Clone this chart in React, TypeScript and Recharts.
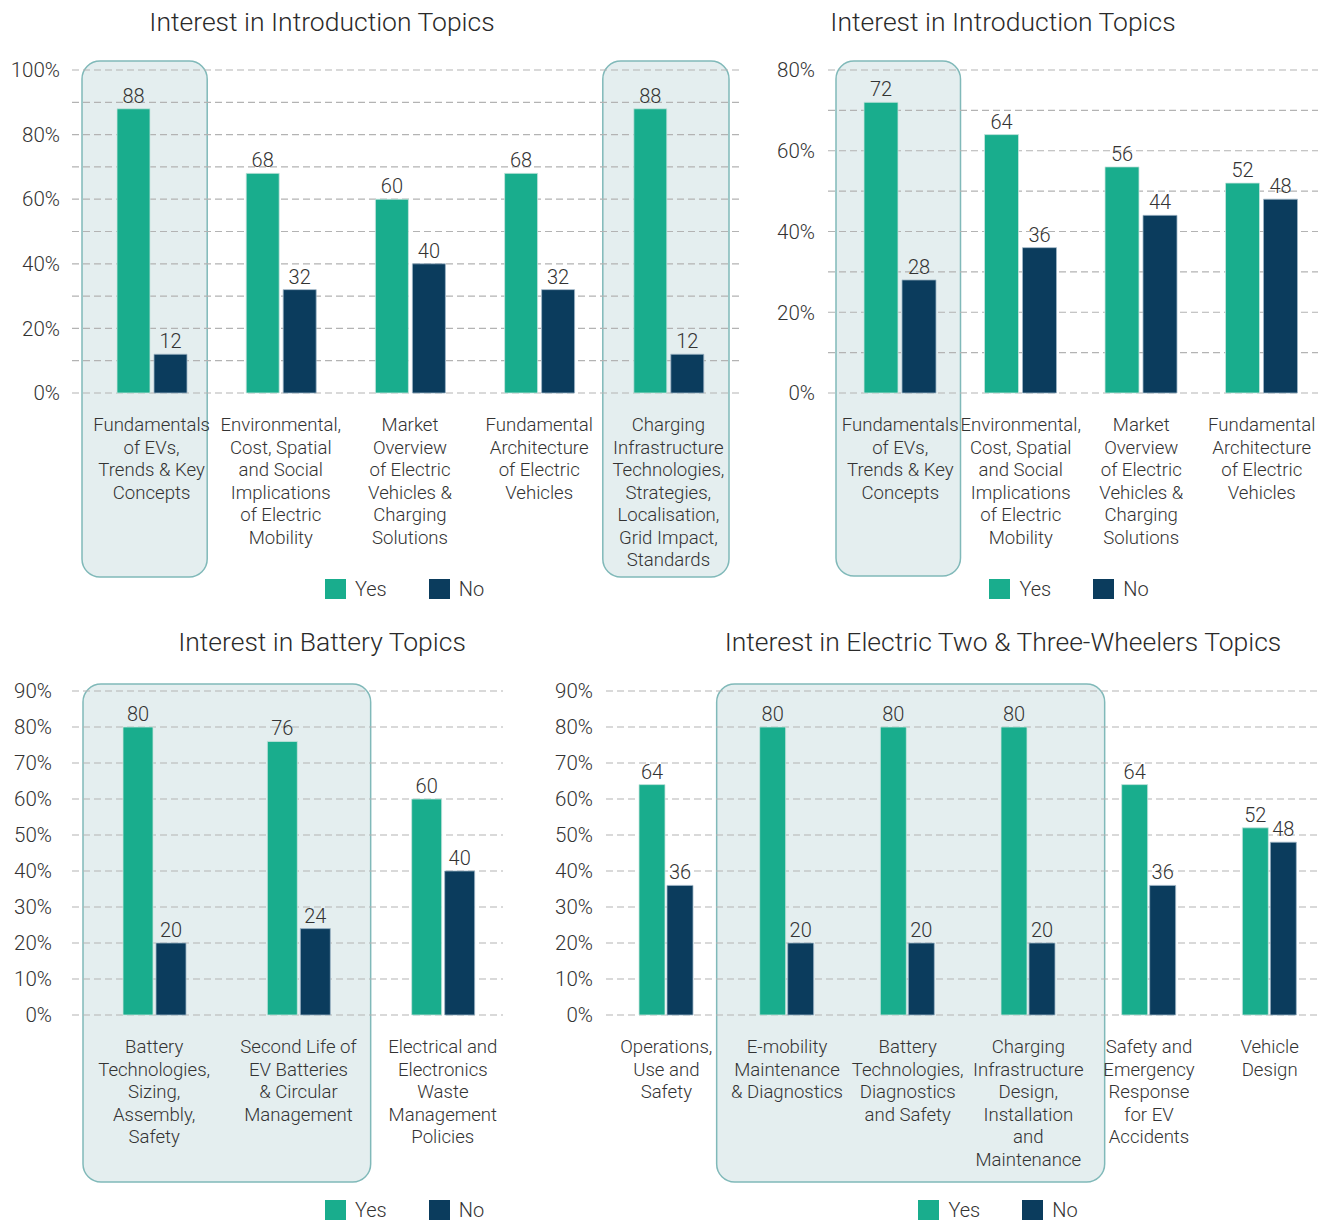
import React from 'react';
import {
  BarChart,
  Bar,
  XAxis,
  YAxis,
  CartesianGrid,
  LabelList,
  Legend,
  ReferenceArea,
} from 'recharts';

const FONT = "Roboto, 'Liberation Sans', Arial, sans-serif";
const TEAL = '#19ad8d';
const NAVY = '#0b3c5d';
const TEXT = '#333333';
const GRID = '#b3b3b3';
const BOX_FILL = '#e4eeef';
const BOX_STROKE = '#80b9b9';

// ---------- Panel 1: Interest in Introduction Topics (5 topics) ----------
const introTitle = 'Interest in Introduction Topics';
const introCategories5 = [
  'Fundamentals\nof EVs,\nTrends & Key\nConcepts',
  'Environmental,\nCost, Spatial\nand Social\nImplications\nof Electric\nMobility',
  'Market\nOverview\nof Electric\nVehicles &\nCharging\nSolutions',
  'Fundamental\nArchitecture\nof Electric\nVehicles',
  'Charging\nInfrastructure\nTechnologies,\nStrategies,\nLocalisation,\nGrid Impact,\nStandards',
];
const introYes5 = [88, 68, 60, 68, 88];
const introNo5 = [12, 32, 40, 32, 12];
const introTicks5 = [0, 10, 20, 30, 40, 50, 60, 70, 80, 90, 100];

// ---------- Panel 2: Interest in Introduction Topics (4 topics) ----------
const introCategories4 = [
  'Fundamentals\nof EVs,\nTrends & Key\nConcepts',
  'Environmental,\nCost, Spatial\nand Social\nImplications\nof Electric\nMobility',
  'Market\nOverview\nof Electric\nVehicles &\nCharging\nSolutions',
  'Fundamental\nArchitecture\nof Electric\nVehicles',
];
const introYes4 = [72, 64, 56, 52];
const introNo4 = [28, 36, 44, 48];
const introTicks4 = [0, 10, 20, 30, 40, 50, 60, 70, 80];

// ---------- Panel 3: Interest in Battery Topics ----------
const batteryTitle = 'Interest in Battery Topics';
const batteryCategories = [
  'Battery\nTechnologies,\nSizing,\nAssembly,\nSafety',
  'Second Life of\nEV Batteries\n& Circular\nManagement',
  'Electrical and\nElectronics\nWaste\nManagement\nPolicies',
];
const batteryYes = [80, 76, 60];
const batteryNo = [20, 24, 40];
const ticks90 = [0, 10, 20, 30, 40, 50, 60, 70, 80, 90];

// ---------- Panel 4: Interest in Electric Two & Three-Wheelers Topics ----------
const wheelersTitle = 'Interest in Electric Two & Three-Wheelers Topics';
const wheelersCategories = [
  'Operations,\nUse and\nSafety',
  'E-mobility\nMaintenance\n& Diagnostics',
  'Battery\nTechnologies,\nDiagnostics\nand Safety',
  'Charging\nInfrastructure\nDesign,\nInstallation\nand\nMaintenance',
  'Safety and\nEmergency\nResponse\nfor EV\nAccidents',
  'Vehicle\nDesign',
];
const wheelersYes = [64, 80, 80, 80, 64, 52];
const wheelersNo = [36, 20, 20, 20, 36, 48];

const seriesNames = ['Yes', 'No'];

const buildRows = (cats: string[], yes: number[], no: number[]) =>
  cats.map((c, i) => ({ name: c, yes: yes[i], no: no[i] }));

const CategoryTick = (props: any) => {
  const { x, y, payload } = props;
  const lines = String(payload.value).split('\n');
  return (
    <text
      x={x}
      y={y + 38}
      textAnchor="middle"
      fill={TEXT}
      fontSize={18.6}
      fontFamily={FONT}
      fontWeight={300}
    >
      {lines.map((l, i) => (
        <tspan key={i} x={x} dy={i === 0 ? 0 : 22.5}>
          {l}
        </tspan>
      ))}
    </text>
  );
};

const makeBoxShape =
  (dl: number, dr: number, up: number, down: number) => (p: any) => {
    const x = p.x + dl;
    const w = p.width - dl + dr;
    const y = p.y - up;
    const h = p.height + up + down;
    return (
      <rect
        x={x}
        y={y}
        width={w}
        height={h}
        rx={18}
        ry={18}
        fill={BOX_FILL}
        stroke={BOX_STROKE}
        strokeWidth={1.5}
      />
    );
  };

const LegendContent = (props: any) => {
  const items = [...(props.payload || [])].sort(
    (a: any, b: any) => seriesNames.indexOf(a.value) - seriesNames.indexOf(b.value)
  );
  return (
    <div
      style={{
        display: 'flex',
        justifyContent: 'center',
        alignItems: 'center',
        gap: 42,
        fontFamily: FONT,
        fontWeight: 300,
        fontSize: 20,
        color: TEXT,
      }}
    >
      {items.map((it: any) => (
        <div key={it.value} style={{ display: 'flex', alignItems: 'center' }}>
          <div style={{ width: 21, height: 20, background: it.color, marginRight: 9 }} />
          <span style={{ lineHeight: '20px' }}>{it.value}</span>
        </div>
      ))}
    </div>
  );
};

type PanelProps = {
  rows: { name: string; yes: number; no: number }[];
  ticks: number[];
  labelStep: number;
  width: number;
  height: number;
  margin: { top: number; right: number; bottom: number; left: number };
  yWidth: number;
  yGap: number;
  xHeight: number;
  xPad: { left: number; right: number };
  barSize: number;
  barGap: number;
  highlights: { from: number; to: number; dl: number; dr: number; up: number; down: number }[];
  legendTop: number;
  legendCenter: number;
};

const Panel = (p: PanelProps) => {
  const max = p.ticks[p.ticks.length - 1];
  return (
    <BarChart
      width={p.width}
      height={p.height}
      data={p.rows}
      margin={p.margin}
      barGap={p.barGap}
      barCategoryGap={0}
    >
      {p.highlights.map((h, i) => (
        <ReferenceArea
          key={i}
          x1={p.rows[h.from].name}
          x2={p.rows[h.to].name}
          y1={0}
          y2={max}
          ifOverflow="visible"
          zIndex={-200}
          shape={makeBoxShape(h.dl, h.dr, h.up, h.down)}
        />
      ))}
      <CartesianGrid vertical={false} stroke={GRID} strokeDasharray="7 4" strokeWidth={1.2} />
      <XAxis
        dataKey="name"
        type="category"
        interval={0}
        axisLine={false}
        tickLine={false}
        tickSize={0}
        tickMargin={0}
        height={p.xHeight}
        padding={p.xPad}
        tick={<CategoryTick />}
      />
      <YAxis
        type="number"
        domain={[0, max]}
        ticks={p.ticks}
        interval={0}
        width={p.yWidth}
        axisLine={false}
        tickLine={false}
        tickSize={0}
        tickMargin={p.yGap}
        tickFormatter={(v: number) => (v % p.labelStep === 0 ? `${v}%` : '')}
        tick={{ fill: TEXT, fontSize: 20.5, fontFamily: FONT, fontWeight: 300 }}
      />
      <Legend
        layout="horizontal"
        verticalAlign="middle"
        align="center"
        content={<LegendContent />}
        wrapperStyle={{ top: p.legendTop, left: p.legendCenter - 200, width: 400, height: 20 }}
      />
      <Bar
        dataKey="yes"
        name={seriesNames[0]}
        fill={TEAL}
        stroke="#c9e4de"
        strokeWidth={0.8}
        barSize={p.barSize}
        isAnimationActive={false}
      >
        <LabelList
          dataKey="yes"
          position="top"
          offset={6}
          fill={TEXT}
          fontSize={20}
          fontFamily={FONT}
          fontWeight={300}
        />
      </Bar>
      <Bar
        dataKey="no"
        name={seriesNames[1]}
        fill={NAVY}
        stroke="#9fb6c6"
        strokeWidth={0.8}
        barSize={p.barSize}
        isAnimationActive={false}
      >
        <LabelList
          dataKey="no"
          position="top"
          offset={6}
          fill={TEXT}
          fontSize={20}
          fontFamily={FONT}
          fontWeight={300}
        />
      </Bar>
    </BarChart>
  );
};

const Title = ({ text, cx, cy }: { text: string; cx: number; cy: number }) => (
  <div
    style={{
      position: 'absolute',
      left: cx - 400,
      width: 800,
      top: cy - 16,
      height: 32,
      lineHeight: '32px',
      textAlign: 'center',
      fontFamily: FONT,
      fontWeight: 300,
      fontSize: 26.5,
      color: '#2a2a2a',
      whiteSpace: 'nowrap',
    }}
  >
    {text}
  </div>
);

export default function App() {
  return (
    <div
      style={{
        position: 'absolute',
        left: 0,
        top: 0,
        width: 1327,
        height: 1221,
        background: '#ffffff',
        overflow: 'hidden',
      }}
    >
      <Title text={introTitle} cx={322} cy={22} />
      <Title text={introTitle} cx={1003} cy={22} />
      <Title text={batteryTitle} cx={322} cy={642} />
      <Title text={wheelersTitle} cx={1003} cy={642} />

      <div style={{ position: 'absolute', left: 0, top: 0 }}>
        <Panel
          rows={buildRows(introCategories5, introYes5, introNo5)}
          ticks={introTicks5}
          labelStep={20}
          width={750}
          height={615}
          margin={{ top: 70, right: 10, bottom: 32, left: 8 }}
          yWidth={64}
          yGap={12}
          xHeight={190}
          xPad={{ left: 15, right: 7 }}
          barSize={33}
          barGap={4}
          highlights={[
            { from: 0, to: 0, dl: -5, dr: -9, up: 9, down: 184 },
            { from: 4, to: 4, dl: -1, dr: -4, up: 9, down: 184 },
          ]}
          legendTop={579}
          legendCenter={404.5}
        />
      </div>

      <div style={{ position: 'absolute', left: 760, top: 0 }}>
        <Panel
          rows={buildRows(introCategories4, introYes4, introNo4)}
          ticks={introTicks4}
          labelStep={20}
          width={567}
          height={615}
          margin={{ top: 70, right: 9, bottom: 32, left: 8 }}
          yWidth={60}
          yGap={13}
          xHeight={190}
          xPad={{ left: 12, right: -4 }}
          barSize={34}
          barGap={4}
          highlights={[{ from: 0, to: 0, dl: -4, dr: 0, up: 9, down: 183 }]}
          legendTop={579}
          legendCenter={1069 - 760}
        />
      </div>

      <div style={{ position: 'absolute', left: 0, top: 620 }}>
        <Panel
          rows={buildRows(batteryCategories, batteryYes, batteryNo)}
          ticks={ticks90}
          labelStep={10}
          width={520}
          height={601}
          margin={{ top: 71, right: 17, bottom: 36, left: 8 }}
          yWidth={64}
          yGap={20}
          xHeight={170}
          xPad={{ left: 10, right: -12 }}
          barSize={30}
          barGap={3}
          highlights={[{ from: 0, to: 1, dl: 1, dr: 0, up: 7, down: 167 }]}
          legendTop={580}
          legendCenter={404.5}
        />
      </div>

      <div style={{ position: 'absolute', left: 530, top: 620 }}>
        <Panel
          rows={buildRows(wheelersCategories, wheelersYes, wheelersNo)}
          ticks={ticks90}
          labelStep={10}
          width={797}
          height={601}
          margin={{ top: 71, right: 9, bottom: 36, left: 12 }}
          yWidth={64}
          yGap={13}
          xHeight={170}
          xPad={{ left: 0, right: -12 }}
          barSize={26}
          barGap={2}
          highlights={[{ from: 1, to: 3, dl: -10, dr: 16, up: 7, down: 167 }]}
          legendTop={580}
          legendCenter={998 - 530}
        />
      </div>
    </div>
  );
}
